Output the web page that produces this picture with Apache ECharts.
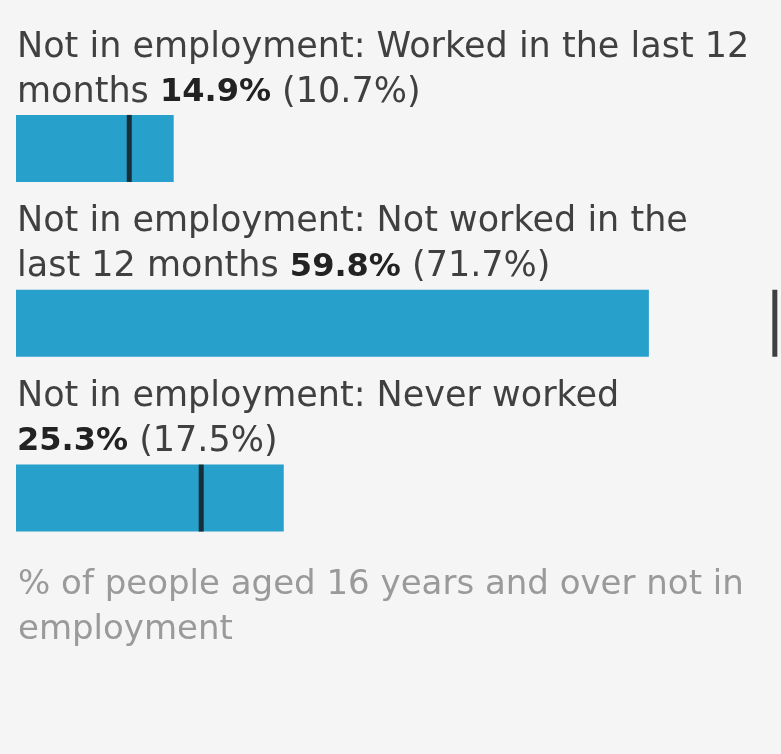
<!DOCTYPE html>
<html><head><meta charset="utf-8">
<script src="https://cdn.jsdelivr.net/npm/echarts@6/dist/echarts.min.js"></script>
<style>html,body{margin:0;padding:0;background:#f5f5f5}#c{width:781px;height:754px}</style>
</head><body><div id="c"></div>
<script>
const categories = [
  "Not in employment: Worked in the last 12\nmonths",
  "Not in employment: Not worked in the\nlast 12 months",
  "Not in employment: Never worked\n"
];
const values = [14.9, 59.8, 25.3];
const comparison = [10.7, 71.7, 17.5];
const footnote = "% of people aged 16 years and over not in\nemployment";

const FONT = "'DejaVu Sans', sans-serif";
const chart = echarts.init(document.getElementById('c'));
chart.setOption({
  backgroundColor: '#f5f5f5',
  animation: false,
  grid: {left: 16, right: 3, top: 61, bottom: 168.5},
  xAxis: {type: 'value', min: 0, max: 72, show: false},
  yAxis: {type: 'category', data: categories, inverse: true, show: false},
  series: [
    {
      type: 'bar', data: values, barWidth: 67,
      itemStyle: {color: '#27a0cc'},
      label: {
        show: true, position: [1, -90],
        formatter: p => {
          const lines = p.name.split('\n');
          const tail = lines[1] ? lines[1] + ' ' : '';
          return '{n|' + lines[0] + '}\n{n|' + tail + '}{b|' + p.value.toFixed(1) + '%}{n| (' + comparison[p.dataIndex].toFixed(1) + '%)}';
        },
        rich: {
          n: {fontFamily: FONT, fontSize: 35, color: '#404040', lineHeight: 45},
          b: {fontFamily: FONT, fontSize: 32, color: '#222', fontWeight: 'bold', lineHeight: 45}
        }
      }
    },
    {
      type: 'scatter', data: comparison, symbol: 'rect', symbolSize: [5, 67],
      itemStyle: {color: '#111'}, z: 5
    }
  ],
  graphic: [{
    type: 'text', left: 18, top: 563,
    style: {text: footnote, font: "34px 'DejaVu Sans', sans-serif", fill: '#9a9a9a', lineHeight: 45}
  }]
});
</script></body></html>
